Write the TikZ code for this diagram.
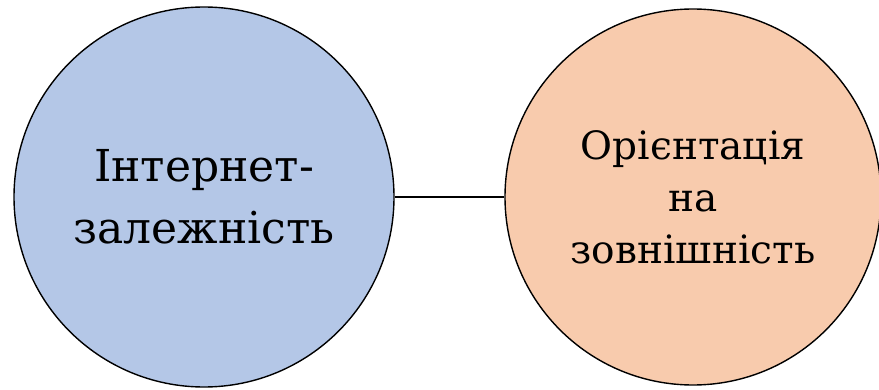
\documentclass[tikz,border=0pt]{standalone}
\usepackage{fontspec}
\setmainfont{DejaVu Serif}
\usepackage{tikz}

\definecolor{factorblue}{HTML}{B4C7E7}
\definecolor{factororange}{HTML}{F8CBAD}

\begin{document}
\begin{tikzpicture}[
x=1pt, y=1pt,
factor/.style={circle, draw=black, line width=1.4pt, align=center, inner sep=0pt},
link/.style={line width=1.3pt, black}
]
\useasboundingbox (0,0) rectangle (879,389);
\node[factor, fill=factorblue, minimum size=380pt, font=\fontsize{44}{62}\selectfont] (inet) at (204,192) {Інтернет-\\залежність};
\node[factor, fill=factororange, minimum size=376pt, font=\fontsize{39}{52}\selectfont] (look) at (693,192) {Орієнтація\\на\\зовнішність};
\draw[link] (inet) -- (look);
\end{tikzpicture}
\end{document}
